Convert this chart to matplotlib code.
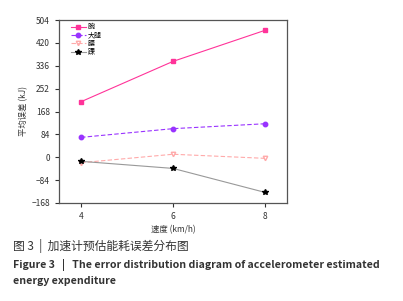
import matplotlib
matplotlib.use("Agg")
import matplotlib.pyplot as plt

plt.rcParams['font.family'] = ['Noto Sans CJK SC', 'DejaVu Sans']

speeds = [4, 6, 8]
series_names = ['腕', '大腿', '腰', '踝']
wrist = [204, 352, 466]
thigh = [73, 105, 123]
waist = [-20, 11, -4]
ankle = [-15, -41, -129]
yticks = [-168, -84, 0, 84, 168, 252, 336, 420, 504]

fig = plt.figure(figsize=(4.03, 3.01), dpi=100)
W, H = 403, 301
ax = fig.add_axes([59 / W, 1 - 203 / H, (287 - 59) / W, (203 - 20) / H])

ax.plot(speeds, wrist, color='#ff3399', marker='s', markersize=2.8, lw=0.8, label=series_names[0])
ax.plot(speeds, thigh, color='#9933ff', marker='o', markersize=3.2, lw=0.8, ls=(0, (4, 2)), label=series_names[1])
ax.plot(speeds, waist, color='#ffaaaa', marker='v', markersize=3.2, lw=0.8, ls=(0, (4, 2)),
        markerfacecolor='none', label=series_names[2])
ax.plot(speeds, ankle, color='#999999', marker='*', markersize=3.8, lw=0.8,
        markerfacecolor='black', markeredgecolor='black', label=series_names[3])

ax.set_xlim(3.52, 8.48)
ax.set_ylim(-168, 504)
ax.set_xticks(speeds)
ax.set_yticks(yticks)
ax.set_yticklabels([str(t).replace('-', '−') for t in yticks])
ax.tick_params(labelsize=6, colors='#333333', length=3, width=0.8)
for s in ax.spines.values():
    s.set_color('#555555')
    s.set_linewidth(0.9)

ax.set_xlabel('速度 (km/h)', fontsize=6, color='#333333', labelpad=3)
ax.set_ylabel('平均误差 (kJ)', fontsize=6, color='#333333', labelpad=2)

leg = ax.legend(loc='upper left', bbox_to_anchor=(0.03, 1.01), fontsize=5, frameon=False,
                handlelength=2.2, handletextpad=0.3, labelspacing=0.05, borderpad=0.2)

fig.text(13 / W, 1 - 246 / H, '图 3  |  加速计预估能耗误差分布图', fontsize=8.5, color='#333333', va='center')
fig.text(13 / W, 1 - 265 / H, 'Figure 3   |   The error distribution diagram of accelerometer estimated',
         fontsize=7.6, fontweight='bold', color='#333333', va='center')
fig.text(13 / W, 1 - 281 / H, 'energy expenditure', fontsize=7.6, fontweight='bold', color='#333333', va='center')

fig.savefig('out.png', dpi=100)
